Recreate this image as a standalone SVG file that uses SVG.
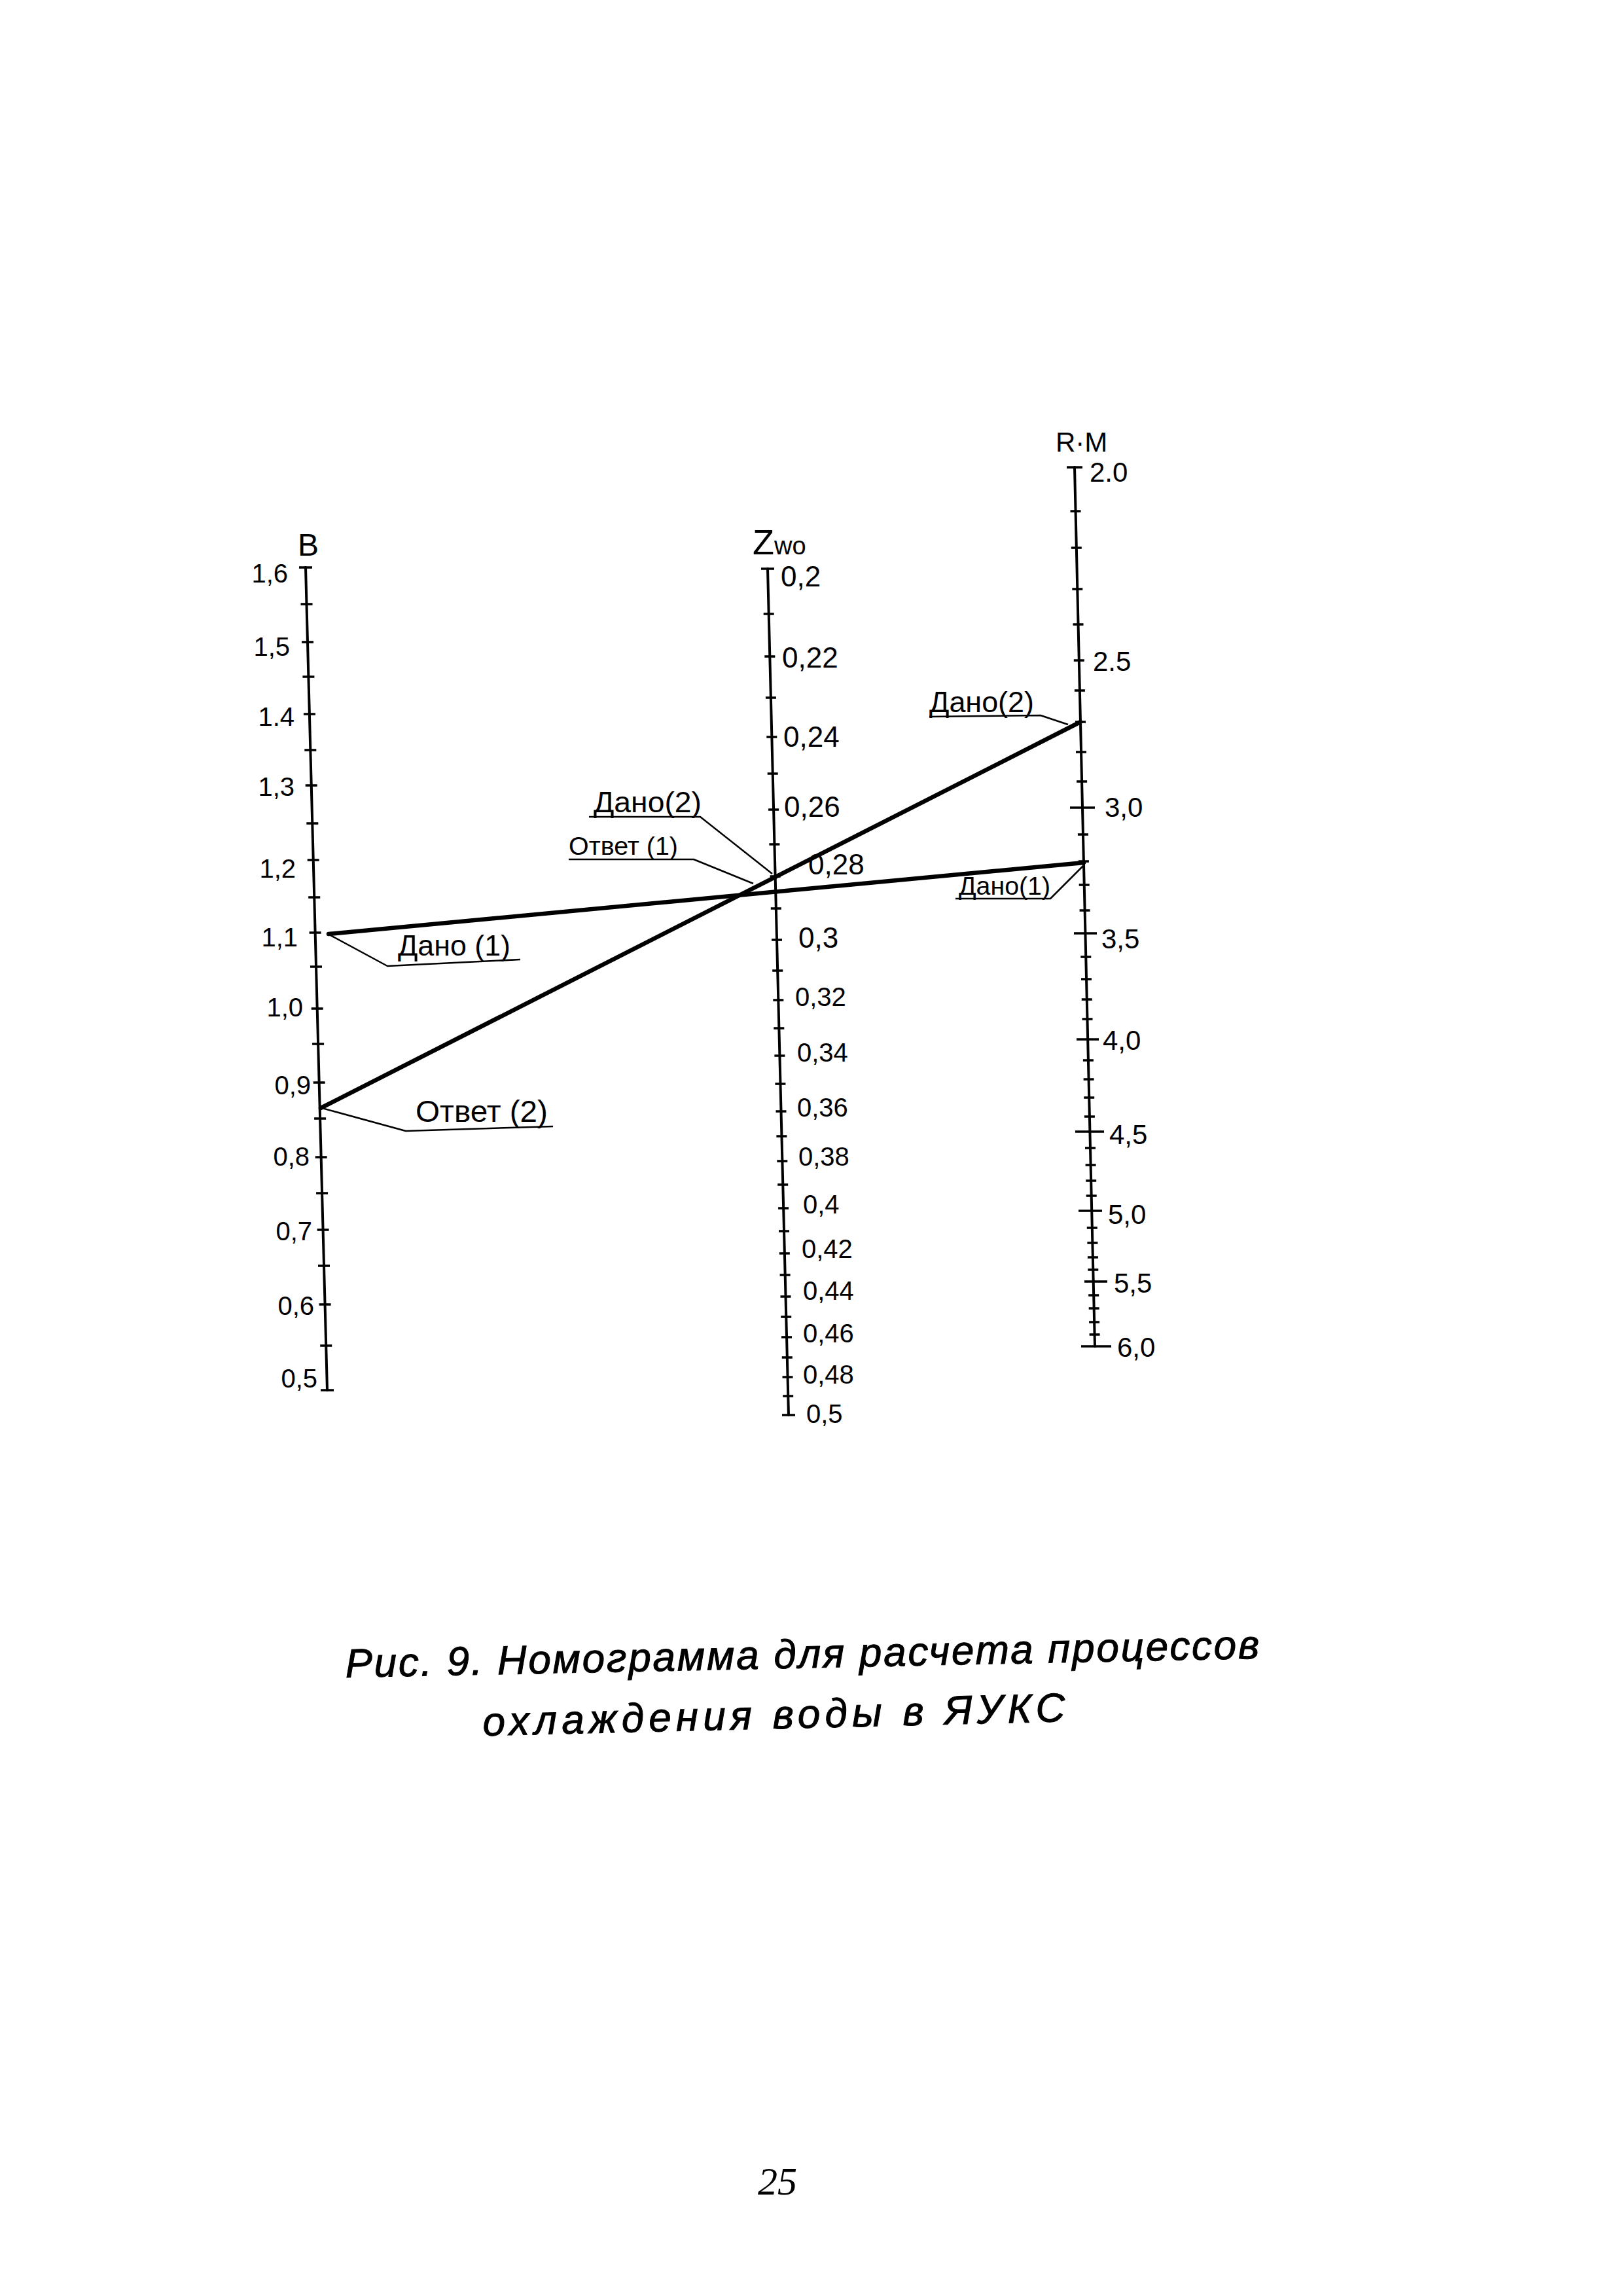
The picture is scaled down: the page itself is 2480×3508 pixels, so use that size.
<svg xmlns="http://www.w3.org/2000/svg" width="2480" height="3508" viewBox="0 0 2480 3508">
<style>
.axis{stroke:#000;stroke-width:4;fill:none;stroke-linecap:round}
.tick{stroke:#000;stroke-width:3.5;fill:none}
.main{stroke:#000;stroke-width:6.5;fill:none;stroke-linecap:round}
.leader{stroke:#000;stroke-width:2.5;fill:none;stroke-linejoin:round}
.num{font-family:"Liberation Sans","DejaVu Sans",sans-serif;fill:#000}
.cap{font-family:"Liberation Sans","DejaVu Sans",sans-serif;font-style:italic;fill:#000;stroke:#000;stroke-width:1}
</style>
<rect width="2480" height="3508" fill="#fff"/>

<g id="axis-B">
<path class="axis" d="M467,867L500,2124"/>
<path class="tick" d="M457,867h20M459.5,923h18M461,981h18M462.4,1034h18M463.9,1091h18M465.3,1146h18M466.7,1200h18M468.3,1258h18M469.7,1314h18M471.2,1371h18M472.6,1425h18M474,1477h18M475.7,1541h18M477.1,1595h18M478.7,1654h18M480.1,1709h18M481.7,1768h18M483.1,1823h18M484.6,1879h18M486,1934h18M487.6,1993h18M489.2,2056h18M490,2124h20"/>
<text class="num" x="455" y="849" font-size="48">B</text>
<g class="num" font-size="40" text-anchor="end">
<text x="440" y="890">1,6</text>
<text x="443" y="1002">1,5</text>
<text x="450" y="1109">1.4</text>
<text x="450" y="1216">1,3</text>
<text x="452" y="1341">1,2</text>
<text x="455" y="1446">1,1</text>
<text x="463" y="1553">1,0</text>
<text x="475" y="1672">0,9</text>
<text x="473" y="1781">0,8</text>
<text x="477" y="1895">0,7</text>
<text x="480" y="2009">0,6</text>
<text x="485" y="2120">0,5</text>
</g>
</g>

<g id="axis-Zwo">
<path class="axis" d="M1173,869L1205,2162"/>
<path class="tick" d="M1163,869h20M1166.7,938h16M1168.3,1003h16M1169.9,1066h16M1171.3,1126h16M1172.7,1182h16M1174.1,1237h16M1175.4,1290h16M1176.6,1339h16M1177.8,1388h16M1179,1436h16M1180.2,1483h16M1181.3,1528h16M1182.3,1571h16M1183.4,1613h16M1184.4,1656h16M1185.5,1698h16M1186.4,1736h16M1187.3,1774h16M1188.2,1810h16M1189.1,1846h16M1190,1881h16M1190.8,1915h16M1191.6,1948h16M1192.5,1981h16M1193.2,2012h16M1194,2043h16M1194.8,2074h16M1195.5,2104h16M1196.2,2133h16M1195,2162h20"/>
<text class="num" x="1150" y="847" font-size="54">Z<tspan font-size="38">wo</tspan></text>
<g class="num" font-size="44">
<text x="1193" y="896">0,2</text>
<text x="1195" y="1020">0,22</text>
<text x="1197" y="1141">0,24</text>
<text x="1198" y="1248">0,26</text>
<text x="1235" y="1336">0,28</text>
<text x="1220" y="1448">0,3</text>
</g>
<g class="num" font-size="40">
<text x="1215" y="1537">0,32</text>
<text x="1218" y="1622">0,34</text>
<text x="1218" y="1706">0,36</text>
<text x="1220" y="1781">0,38</text>
<text x="1227" y="1854">0,4</text>
<text x="1225" y="1922">0,42</text>
<text x="1227" y="1986">0,44</text>
<text x="1227" y="2051">0,46</text>
<text x="1227" y="2114">0,48</text>
<text x="1232" y="2174">0,5</text>
</g>
</g>

<g id="axis-R">
<path class="axis" d="M1642,714L1673,2057"/>
<path class="tick" d="M1630,714h24M1635.5,781h16M1636.8,837h16M1638.3,900h16M1639.5,954h16M1640.8,1009h16M1641.9,1055h16M1643,1103h16M1644,1149h16M1645.1,1194h16M1635,1234h38M1646.9,1275h16M1647.9,1316h16M1648.7,1352h16M1649.6,1391h16M1641,1426h35M1651.3,1462h16M1652,1496h16M1652.8,1527h16M1653.5,1557h16M1645,1588h34M1654.9,1620h16M1655.6,1649h16M1656.2,1677h16M1656.9,1706h16M1643,1729h44M1658,1754h16M1658.6,1780h16M1659.2,1804h16M1659.7,1827h16M1648,1850h36M1660.8,1876h16M1661.4,1899h16M1661.9,1921h16M1662.3,1940h16M1657,1958h35M1663.2,1979h16M1663.7,1999h16M1664.1,2020h16M1664.6,2039h16M1652,2057h46"/>
<text class="num" x="1613" y="690" font-size="42">R·M</text>
<g class="num" font-size="42">
<text x="1665" y="736">2.0</text>
<text x="1670" y="1025">2.5</text>
<text x="1688" y="1248">3,0</text>
<text x="1683" y="1449">3,5</text>
<text x="1685" y="1604">4,0</text>
<text x="1695" y="1748">4,5</text>
<text x="1693" y="1870">5,0</text>
<text x="1702" y="1975">5,5</text>
<text x="1707" y="2073">6,0</text>
</g>
</g>

<g id="connectors">
<path class="main" d="M502,1427L1656,1318"/>
<path class="main" d="M490,1693L1651,1103"/>
</g>

<g id="label-dano1-left">
<path class="leader" d="M503,1428L592,1476L795,1466"/>
<text class="num" x="608" y="1460" font-size="44" textLength="172" lengthAdjust="spacingAndGlyphs">Дано (1)</text>
</g>
<g id="label-otvet2">
<path class="leader" d="M492,1693L620,1728L845,1721"/>
<text class="num" x="635" y="1714" font-size="46" textLength="202" lengthAdjust="spacingAndGlyphs">Ответ (2)</text>
</g>
<g id="label-dano2-right">
<path class="leader" d="M1420,1095L1590,1093L1632,1107"/>
<text class="num" x="1420" y="1088" font-size="44" textLength="160" lengthAdjust="spacingAndGlyphs">Дано(2)</text>
</g>
<g id="label-dano1-right">
<path class="leader" d="M1460,1373L1605,1373L1655,1323"/>
<text class="num" x="1465" y="1367" font-size="38" textLength="140" lengthAdjust="spacingAndGlyphs">Дано(1)</text>
</g>
<g id="label-dano2-center">
<path class="leader" d="M900,1248L1070,1248L1180,1335"/>
<text class="num" x="907" y="1241" font-size="44" textLength="165" lengthAdjust="spacingAndGlyphs">Дано(2)</text>
</g>
<g id="label-otvet1">
<path class="leader" d="M869,1313L1060,1313L1151,1350"/>
<text class="num" x="869" y="1306" font-size="38" textLength="167" lengthAdjust="spacingAndGlyphs">Ответ (1)</text>
</g>

<g id="caption">
<text class="cap" x="528" y="2563" font-size="62" textLength="1397" lengthAdjust="spacing" transform="rotate(-1.2 528 2563)">Рис. 9. Номограмма для расчета процессов</text>
<text class="cap" x="738" y="2652" font-size="62" textLength="890" lengthAdjust="spacing" transform="rotate(-1.4 738 2652)">охлаждения воды в ЯУКС</text>
</g>

<g id="page-number">
<text x="1158" y="3353" font-family="'Liberation Serif','DejaVu Serif',serif" font-style="italic" font-size="60" fill="#000">25</text>
</g>
</svg>
